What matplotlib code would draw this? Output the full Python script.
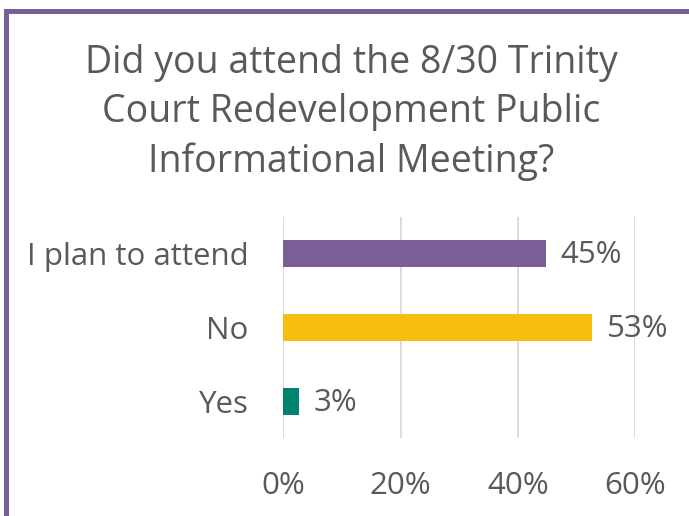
import matplotlib.pyplot as plt
from matplotlib.patches import Rectangle

# survey results (share of respondents)
answers = ['Yes', 'No', 'I plan to attend']
shares = [0.026, 0.526, 0.447]
bar_colors = ['#00836E', '#F5BE10', '#7A5E96']
xticks = [0, 0.2, 0.4, 0.6]
title = 'Did you attend the 8/30 Trinity\nCourt Redevelopment Public\nInformational Meeting?'

plt.rcParams['font.family'] = ['Open Sans', 'DejaVu Sans']
text_color = '#595959'

fig = plt.figure(figsize=(6.89, 5.16), dpi=100)
ax = fig.add_axes([283.3 / 689, 1 - 438 / 516, 352 / 689, 221 / 516])

ypos = range(len(answers))
ax.barh(ypos, shares, height=0.367, color=bar_colors, zorder=3)
for y, v in zip(ypos, shares):
    ax.annotate(f'{v:.0%}', (v, y), xytext=(11, -1), textcoords='offset points',
                va='center', ha='left', fontsize=22.5, color=text_color)

ax.set_xlim(0, 0.6)
ax.set_ylim(-0.5, 2.5)
ax.set_xticks(xticks)
ax.set_xticklabels([f'{t:.0%}' for t in xticks])
ax.set_yticks(list(ypos))
ax.set_yticklabels(answers)
ax.tick_params(axis='x', length=0, pad=23.5, labelsize=22.5, labelcolor=text_color)
ax.tick_params(axis='y', length=0, pad=25, labelsize=22.5, labelcolor=text_color)
ax.grid(axis='x', color='#D9D9D9', linewidth=1.3, zorder=0)
for s in ax.spines.values():
    s.set_visible(False)

fig.text(351 / 689, 1 - 172 / 516, title, ha='center', va='baseline',
         fontsize=27, color=text_color, linespacing=1.38)

# purple frame, only the top and left edges fall inside the figure
fig.patches.append(Rectangle((5.5 / 689, -0.2), 1.2, 1.2 - 10.8 / 516,
                             transform=fig.transFigure, fill=False,
                             edgecolor='#7A5E96', linewidth=3.6))

fig.savefig('out.png', dpi=100)
